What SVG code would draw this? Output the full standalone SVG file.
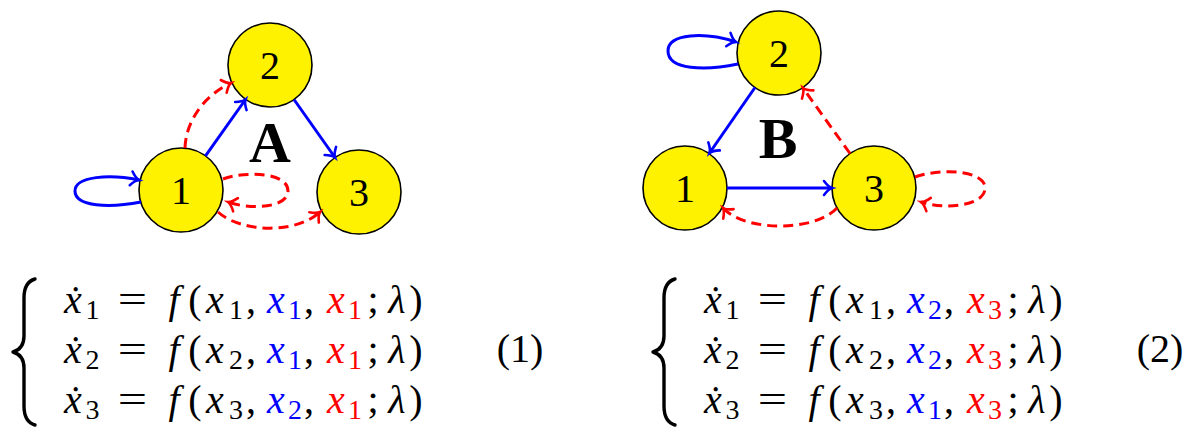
<svg xmlns="http://www.w3.org/2000/svg" width="1197" height="440" viewBox="0 0 1197 440">
<style>
.node circle{fill:#fff200;stroke:#000;stroke-width:1.6}
.node text{font-family:"Liberation Serif",serif;font-size:40px;text-anchor:middle;fill:#000}
.big{font-family:"Liberation Serif",serif;font-weight:bold;font-size:58px;text-anchor:middle;fill:#000}
.blue{stroke:#0000ff;stroke-width:3;fill:none}
.red{stroke:#ff0000;stroke-width:3;fill:none;stroke-dasharray:10 6}
.eq text{font-family:"Liberation Serif",serif;text-anchor:middle;fill:#000}
.m{font-size:40px}
.i{font-style:italic}
.s{font-size:28px}
.b{fill:#0000ff}
.r{fill:#ff0000}
.brace{fill:none;stroke:#000;stroke-width:3.4;stroke-linecap:round;stroke-linejoin:round}
</style>
<defs>
<marker id="ab" markerUnits="userSpaceOnUse" viewBox="-10 -10 20 20" markerWidth="20" markerHeight="20" refX="0" refY="0" orient="auto">
<path d="M-8,-7 Q-3.5,-1 0,0 Q-3.5,1 -8,7" fill="none" stroke="#0000ff" stroke-width="2.6" stroke-linecap="round"/>
</marker>
<marker id="ar" markerUnits="userSpaceOnUse" viewBox="-10 -10 20 20" markerWidth="20" markerHeight="20" refX="0" refY="0" orient="auto">
<path d="M-8,-7 Q-3.5,-1 0,0 Q-3.5,1 -8,7" fill="none" stroke="#ff0000" stroke-width="2.6" stroke-linecap="round"/>
</marker>
</defs>

<!-- Diagram A nodes -->
<g id="A1" class="node"><circle cx="181" cy="190" r="42"/><text x="181" y="204">1</text></g>
<g id="A2" class="node"><circle cx="270" cy="65" r="42"/><text x="270" y="79">2</text></g>
<g id="A3" class="node"><circle cx="359" cy="192" r="42"/><text x="359" y="206">3</text></g>
<text id="labelA" class="big" x="270" y="162">A</text>

<!-- Diagram B nodes -->
<g id="B1" class="node"><circle cx="685" cy="188" r="42"/><text x="685" y="202">1</text></g>
<g id="B2" class="node"><circle cx="779" cy="53" r="42"/><text x="779" y="67">2</text></g>
<g id="B3" class="node"><circle cx="874" cy="188" r="42"/><text x="874" y="202">3</text></g>
<text id="labelB" class="big" x="778" y="158">B</text>

<g id="connectors">
<!-- A -->
<path class="blue" d="M205.5,155.8 L245.5,99.5" marker-end="url(#ab)"/>
<path class="blue" d="M294,99.5 L335,157.5" marker-end="url(#ab)"/>
<path class="blue" d="M141,202 C110,208 75,207 75,191 C75,176 110,174 139,180" marker-end="url(#ab)"/>
<path class="red" d="M185,148 C186,120 205,95 231,83" marker-end="url(#ar)"/>
<path class="red" d="M223,179 C245,171 288,172 288,191 C288,208 250,210 228,202" marker-end="url(#ar)"/>
<path class="red" d="M218,212 C240,232 295,235 320,212" marker-end="url(#ar)"/>
<!-- B -->
<path class="blue" d="M738,64 C705,71 668,70 668,51 C668,33 705,32 736,42" marker-end="url(#ab)"/>
<path class="blue" d="M755,87.5 L709.5,153" marker-end="url(#ab)"/>
<path class="blue" d="M727,188 L832,188" marker-end="url(#ab)"/>
<path class="red" d="M850,153.5 L803,88" marker-end="url(#ar)"/>
<path class="red" d="M837,208 C815,232 745,232 723,208" marker-end="url(#ar)"/>
<path class="red" d="M915,177 C940,168 985,170 985,188 C985,206 945,210 921,202" marker-end="url(#ar)"/>
</g>

<!-- Equation system (1) -->
<g id="eq1" class="eq">
<path class="brace" d="M35,279 C28,281 24,288 24,298 L24,336 C24,345 20,350 13,352 C20,354 24,359 24,368 L24,406 C24,416 28,423 35,425"/>
<text class="m"><tspan class="i" x="73" y="313">ẋ</tspan><tspan class="s" x="92.5" y="319">1</tspan><tspan class="i" x="174" y="313">f</tspan><tspan x="195" y="313">(</tspan><tspan class="i" x="215" y="313">x</tspan><tspan class="s" x="236" y="319">1</tspan><tspan x="251" y="313">,</tspan><tspan class="i b" x="276" y="313">x</tspan><tspan class="s b" x="295" y="319">1</tspan><tspan x="309" y="313">,</tspan><tspan class="i r" x="336" y="313">x</tspan><tspan class="s r" x="355" y="319">1</tspan><tspan x="373" y="313">;</tspan><tspan class="i" x="397" y="313">λ</tspan><tspan x="416" y="313">)</tspan></text>
<text class="m" transform="translate(132.5,313) scale(1.3,1)">=</text>
<text class="m"><tspan class="i" x="73" y="363">ẋ</tspan><tspan class="s" x="92.5" y="369">2</tspan><tspan class="i" x="174" y="363">f</tspan><tspan x="195" y="363">(</tspan><tspan class="i" x="215" y="363">x</tspan><tspan class="s" x="236" y="369">2</tspan><tspan x="251" y="363">,</tspan><tspan class="i b" x="276" y="363">x</tspan><tspan class="s b" x="295" y="369">1</tspan><tspan x="309" y="363">,</tspan><tspan class="i r" x="336" y="363">x</tspan><tspan class="s r" x="355" y="369">1</tspan><tspan x="373" y="363">;</tspan><tspan class="i" x="397" y="363">λ</tspan><tspan x="416" y="363">)</tspan></text>
<text class="m" transform="translate(132.5,363) scale(1.3,1)">=</text>
<text class="m"><tspan class="i" x="73" y="413">ẋ</tspan><tspan class="s" x="92.5" y="419">3</tspan><tspan class="i" x="174" y="413">f</tspan><tspan x="195" y="413">(</tspan><tspan class="i" x="215" y="413">x</tspan><tspan class="s" x="236" y="419">3</tspan><tspan x="251" y="413">,</tspan><tspan class="i b" x="276" y="413">x</tspan><tspan class="s b" x="295" y="419">2</tspan><tspan x="309" y="413">,</tspan><tspan class="i r" x="336" y="413">x</tspan><tspan class="s r" x="355" y="419">1</tspan><tspan x="373" y="413">;</tspan><tspan class="i" x="397" y="413">λ</tspan><tspan x="416" y="413">)</tspan></text>
<text class="m" transform="translate(132.5,413) scale(1.3,1)">=</text>
<text class="m" x="520" y="362">(1)</text>
</g>

<!-- Equation system (2) -->
<g id="eq2" class="eq" transform="translate(640,0)">
<path class="brace" d="M35,279 C28,281 24,288 24,298 L24,336 C24,345 20,350 13,352 C20,354 24,359 24,368 L24,406 C24,416 28,423 35,425"/>
<text class="m"><tspan class="i" x="73" y="313">ẋ</tspan><tspan class="s" x="92.5" y="319">1</tspan><tspan class="i" x="174" y="313">f</tspan><tspan x="195" y="313">(</tspan><tspan class="i" x="215" y="313">x</tspan><tspan class="s" x="236" y="319">1</tspan><tspan x="251" y="313">,</tspan><tspan class="i b" x="276" y="313">x</tspan><tspan class="s b" x="295" y="319">2</tspan><tspan x="309" y="313">,</tspan><tspan class="i r" x="336" y="313">x</tspan><tspan class="s r" x="355" y="319">3</tspan><tspan x="373" y="313">;</tspan><tspan class="i" x="397" y="313">λ</tspan><tspan x="416" y="313">)</tspan></text>
<text class="m" transform="translate(132.5,313) scale(1.3,1)">=</text>
<text class="m"><tspan class="i" x="73" y="363">ẋ</tspan><tspan class="s" x="92.5" y="369">2</tspan><tspan class="i" x="174" y="363">f</tspan><tspan x="195" y="363">(</tspan><tspan class="i" x="215" y="363">x</tspan><tspan class="s" x="236" y="369">2</tspan><tspan x="251" y="363">,</tspan><tspan class="i b" x="276" y="363">x</tspan><tspan class="s b" x="295" y="369">2</tspan><tspan x="309" y="363">,</tspan><tspan class="i r" x="336" y="363">x</tspan><tspan class="s r" x="355" y="369">3</tspan><tspan x="373" y="363">;</tspan><tspan class="i" x="397" y="363">λ</tspan><tspan x="416" y="363">)</tspan></text>
<text class="m" transform="translate(132.5,363) scale(1.3,1)">=</text>
<text class="m"><tspan class="i" x="73" y="413">ẋ</tspan><tspan class="s" x="92.5" y="419">3</tspan><tspan class="i" x="174" y="413">f</tspan><tspan x="195" y="413">(</tspan><tspan class="i" x="215" y="413">x</tspan><tspan class="s" x="236" y="419">3</tspan><tspan x="251" y="413">,</tspan><tspan class="i b" x="276" y="413">x</tspan><tspan class="s b" x="295" y="419">1</tspan><tspan x="309" y="413">,</tspan><tspan class="i r" x="336" y="413">x</tspan><tspan class="s r" x="355" y="419">3</tspan><tspan x="373" y="413">;</tspan><tspan class="i" x="397" y="413">λ</tspan><tspan x="416" y="413">)</tspan></text>
<text class="m" transform="translate(132.5,413) scale(1.3,1)">=</text>
<text class="m" x="520" y="362">(2)</text>
</g>
</svg>
